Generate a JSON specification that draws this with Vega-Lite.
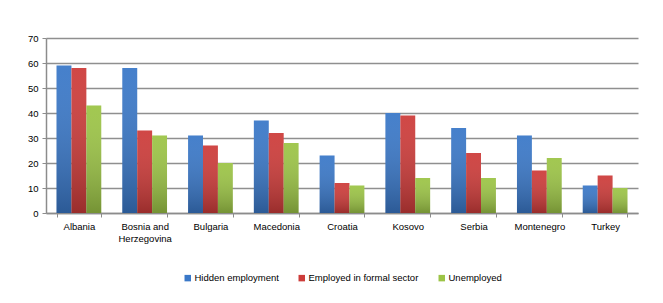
{
  "$schema": "https://vega.github.io/schema/vega-lite/v6.json",
  "width": 592,
  "height": 175,
  "autosize": "none",
  "padding": {"left": 46, "top": 38, "right": 25, "bottom": 90},
  "background": "white",
  "config": {
    "font": "Liberation Sans",
    "view": {"stroke": null},
    "axis": {"labelColor": "#000000", "labelFontSize": 9.5, "domainColor": "#8c8c8c", "tickColor": "#8c8c8c", "titleFontSize": 10},
    "legend": {"layout": {"bottom": {"anchor": "middle"}}}
  },
  "data": {
    "values": [
      {"country": "Albania", "series": "Hidden employment", "value": 59},
      {"country": "Albania", "series": "Employed in formal sector", "value": 58},
      {"country": "Albania", "series": "Unemployed", "value": 43},
      {"country": "Bosnia and Herzegovina", "series": "Hidden employment", "value": 58},
      {"country": "Bosnia and Herzegovina", "series": "Employed in formal sector", "value": 33},
      {"country": "Bosnia and Herzegovina", "series": "Unemployed", "value": 31},
      {"country": "Bulgaria", "series": "Hidden employment", "value": 31},
      {"country": "Bulgaria", "series": "Employed in formal sector", "value": 27},
      {"country": "Bulgaria", "series": "Unemployed", "value": 20},
      {"country": "Macedonia", "series": "Hidden employment", "value": 37},
      {"country": "Macedonia", "series": "Employed in formal sector", "value": 32},
      {"country": "Macedonia", "series": "Unemployed", "value": 28},
      {"country": "Croatia", "series": "Hidden employment", "value": 23},
      {"country": "Croatia", "series": "Employed in formal sector", "value": 12},
      {"country": "Croatia", "series": "Unemployed", "value": 11},
      {"country": "Kosovo", "series": "Hidden employment", "value": 40},
      {"country": "Kosovo", "series": "Employed in formal sector", "value": 39},
      {"country": "Kosovo", "series": "Unemployed", "value": 14},
      {"country": "Serbia", "series": "Hidden employment", "value": 34},
      {"country": "Serbia", "series": "Employed in formal sector", "value": 24},
      {"country": "Serbia", "series": "Unemployed", "value": 14},
      {"country": "Montenegro", "series": "Hidden employment", "value": 31},
      {"country": "Montenegro", "series": "Employed in formal sector", "value": 17},
      {"country": "Montenegro", "series": "Unemployed", "value": 22},
      {"country": "Turkey", "series": "Hidden employment", "value": 11},
      {"country": "Turkey", "series": "Employed in formal sector", "value": 15},
      {"country": "Turkey", "series": "Unemployed", "value": 10}
    ]
  },
  "encoding": {
    "x": {
      "field": "country",
      "type": "nominal",
      "sort": null,
      "title": null,
      "scale": {"paddingInner": 0.32, "paddingOuter": 0.16},
      "axis": {
        "labelAngle": 0,
        "tickBand": "extent",
        "tickSize": 4,
        "labelPadding": 4,
        "labelLineHeight": 12,
        "labelExpr": "datum.label == 'Bosnia and Herzegovina' ? ['Bosnia and', 'Herzegovina'] : datum.label",
        "domainWidth": 1.5
      }
    },
    "xOffset": {
      "field": "series",
      "type": "nominal",
      "sort": ["Hidden employment", "Employed in formal sector", "Unemployed"],
      "scale": {"paddingInner": 0, "paddingOuter": 0}
    },
    "y": {
      "field": "value",
      "type": "quantitative",
      "title": null,
      "scale": {"domain": [0, 70], "nice": false},
      "axis": {
        "values": [0, 10, 20, 30, 40, 50, 60, 70],
        "tickSize": 4,
        "labelPadding": 4,
        "grid": true,
        "gridColor": "#8f8f8f",
        "gridWidth": 1.5,
        "domainWidth": 1.5
      }
    }
  },
  "layer": [
    {
      "mark": {"type": "bar"},
      "encoding": {
        "color": {
          "field": "series",
          "type": "nominal",
          "sort": ["Hidden employment", "Employed in formal sector", "Unemployed"],
          "scale": {
            "domain": ["Hidden employment", "Employed in formal sector", "Unemployed"],
            "range": ["#3a78c8", "#cd3c3a", "#9cc446"]
          },
          "legend": {
            "title": null,
            "orient": "bottom",
            "direction": "horizontal",
            "symbolType": "square",
            "symbolSize": 42,
            "labelFontSize": 9.5,
            "labelColor": "#000000",
            "labelOffset": 2,
            "columnPadding": 18,
            "offset": 30
          }
        }
      }
    },
    {
      "mark": {
        "type": "bar",
        "color": {
          "gradient": "linear",
          "x1": 0, "y1": 0, "x2": 0, "y2": 1,
          "stops": [
            {"offset": 0, "color": "rgba(255,255,255,0.06)"},
            {"offset": 1, "color": "rgba(0,0,0,0.25)"}
          ]
        }
      }
    }
  ]
}
